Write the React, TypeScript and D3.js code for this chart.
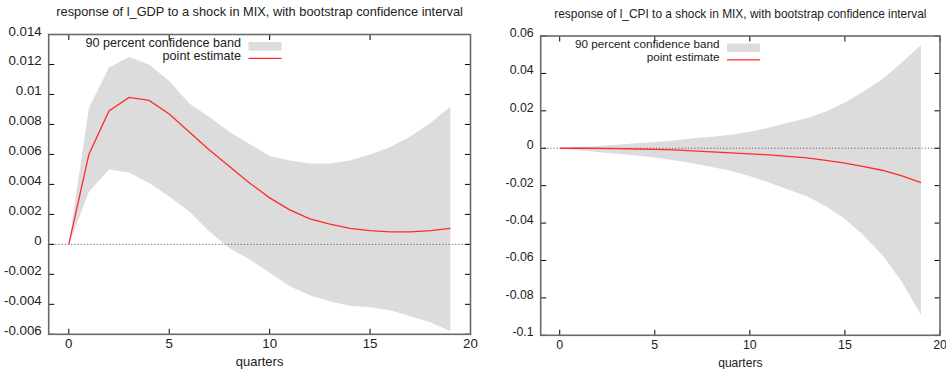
import { useEffect, useRef } from "react";
import * as d3 from "d3";

const quarters = [0, 1, 2, 3, 4, 5, 6, 7, 8, 9, 10, 11, 12, 13, 14, 15, 16, 17, 18, 19];
const xTicks = [0, 5, 10, 15, 20];

// l_GDP response
const gdpPoint = [0, 0.0060, 0.0089, 0.0098, 0.0096, 0.0087, 0.0075, 0.0063, 0.0052, 0.0041, 0.0031,
  0.0023, 0.0017, 0.00135, 0.00107, 0.00091, 0.00083, 0.00083, 0.00091, 0.00107];
const gdpUpper = [0, 0.0091, 0.0118, 0.0125, 0.0120, 0.0109, 0.0094, 0.0085, 0.0075, 0.0067, 0.0059,
  0.0056, 0.0054, 0.0054, 0.0056, 0.0060, 0.0065, 0.0072, 0.0081, 0.0092];
const gdpLower = [0, 0.0035, 0.0050, 0.0048, 0.0041, 0.0032, 0.0022, 0.00085, -0.00026, -0.0010, -0.0019,
  -0.0028, -0.0034, -0.0038, -0.0041, -0.0042, -0.0044, -0.0048, -0.0052, -0.0058];
const gdpYTicks = [-0.006, -0.004, -0.002, 0, 0.002, 0.004, 0.006, 0.008, 0.01, 0.012, 0.014];

// l_CPI response
const cpiPoint = [0, 0, -0.0001, -0.0002, -0.0004, -0.0006, -0.0009, -0.0014, -0.0019, -0.0025, -0.0030,
  -0.0036, -0.0044, -0.0052, -0.0065, -0.0080, -0.0098, -0.0119, -0.0148, -0.0184];
const cpiUpper = [0, 0.0006, 0.0012, 0.0018, 0.0026, 0.0033, 0.0042, 0.0053, 0.0062, 0.0072, 0.0088,
  0.0110, 0.0136, 0.0160, 0.0196, 0.0245, 0.0305, 0.0372, 0.0460, 0.0552];
const cpiLower = [0, -0.0010, -0.0020, -0.0030, -0.0039, -0.0050, -0.0064, -0.0080, -0.0100, -0.0122, -0.0150,
  -0.0183, -0.0220, -0.0257, -0.0310, -0.0378, -0.0468, -0.0575, -0.0715, -0.0891];
const cpiYTicks = [-0.1, -0.08, -0.06, -0.04, -0.02, 0, 0.02, 0.04, 0.06];

const FONT = "'Liberation Sans', Arial, sans-serif";
const BAND = "#dcdcdc";
const RED = "#ff2a2a";

interface PanelSpec {
  title: string;
  point: number[];
  upper: number[];
  lower: number[];
  yTicks: number[];
  left: number;
  right: number;
  top: number;
  bottom: number;
  titleY: number;
  legendX: number;
  fontScale: number;
}

const panels: PanelSpec[] = [
  {
    title: "response of l_GDP to a shock in MIX, with bootstrap confidence interval",
    point: gdpPoint, upper: gdpUpper, lower: gdpLower, yTicks: gdpYTicks,
    left: 48.7, right: 470.5, top: 34.5, bottom: 334.3, titleY: 16, legendX: 241, fontScale: 1
  },
  {
    title: "response of l_CPI to a shock in MIX, with bootstrap confidence interval",
    point: cpiPoint, upper: cpiUpper, lower: cpiLower, yTicks: cpiYTicks,
    left: 540.7, right: 940, top: 36, bottom: 335.3, titleY: 17.5, legendX: 719.5, fontScale: 0.93
  }
];

export default function App() {
  const svgRef = useRef<SVGSVGElement>(null);

  useEffect(() => {
    if (!svgRef.current) return;
    const svg = d3.select(svgRef.current);
    svg.selectAll("*").remove();

    panels.forEach(p => {
      const g = svg.append("g");
      const x = d3.scaleLinear().domain([-1, 20]).range([p.left, p.right]);
      const yExt = d3.extent(p.yTicks) as [number, number];
      const y = d3.scaleLinear().domain(yExt).range([p.bottom, p.top]);
      const fmt = (d: number) => (d === 0 ? "0" : String(+d.toFixed(3)));
      const fs = (n: number) => n * p.fontScale;

      // confidence band
      const area = d3.area<number>()
        .x((d, i) => x(quarters[i]))
        .y0((d, i) => y(p.lower[i]))
        .y1(d => y(d));
      g.append("path")
        .datum(p.upper)
        .attr("d", area)
        .attr("fill", BAND);

      // zero line
      g.append("line")
        .attr("x1", p.left).attr("x2", p.right)
        .attr("y1", y(0)).attr("y2", y(0))
        .attr("stroke", "#444")
        .attr("stroke-width", 0.8)
        .attr("stroke-dasharray", "1.2,2");

      // point estimate
      const line = d3.line<number>()
        .x((d, i) => x(quarters[i]))
        .y(d => y(d));
      g.append("path")
        .datum(p.point)
        .attr("d", line)
        .attr("fill", "none")
        .attr("stroke", RED)
        .attr("stroke-width", 1.3);

      // ticks (inside, mirrored)
      const tl = 5.5;
      p.yTicks.forEach(t => {
        g.append("line").attr("x1", p.left).attr("x2", p.left + tl)
          .attr("y1", y(t)).attr("y2", y(t)).attr("stroke", "#000");
        g.append("line").attr("x1", p.right - tl).attr("x2", p.right)
          .attr("y1", y(t)).attr("y2", y(t)).attr("stroke", "#000");
        g.append("text")
          .attr("x", p.left - 7)
          .attr("y", y(t) + 1)
          .attr("text-anchor", "end")
          .attr("font-size", fs(13.3))
          .attr("font-family", FONT)
          .attr("fill", "#222")
          .text(fmt(t));
      });
      xTicks.forEach(t => {
        g.append("line").attr("x1", x(t)).attr("x2", x(t))
          .attr("y1", p.bottom).attr("y2", p.bottom - tl).attr("stroke", "#000");
        g.append("line").attr("x1", x(t)).attr("x2", x(t))
          .attr("y1", p.top).attr("y2", p.top + tl).attr("stroke", "#000");
        g.append("text")
          .attr("x", x(t))
          .attr("y", p.bottom + 13.5)
          .attr("text-anchor", "middle")
          .attr("font-size", fs(13.3))
          .attr("font-family", FONT)
          .attr("fill", "#222")
          .text(t);
      });

      // frame
      g.append("rect")
        .attr("x", p.left).attr("y", p.top)
        .attr("width", p.right - p.left).attr("height", p.bottom - p.top)
        .attr("fill", "none")
        .attr("stroke", "#6a6a6a")
        .attr("stroke-width", 1.6);

      // title and axis label
      g.append("text")
        .attr("x", (p.left + p.right) / 2)
        .attr("y", p.titleY)
        .attr("text-anchor", "middle")
        .attr("font-size", fs(12.8))
        .attr("font-family", FONT)
        .attr("fill", "#222")
        .text(p.title);
      g.append("text")
        .attr("x", (p.left + p.right) / 2)
        .attr("y", p.bottom + 32)
        .attr("text-anchor", "middle")
        .attr("font-size", fs(13))
        .attr("font-family", FONT)
        .attr("fill", "#222")
        .text("quarters");

      // legend
      const lg = g.append("g").attr("transform", `translate(${p.legendX},${p.top})`);
      lg.append("text").attr("x", 0).attr("y", 12.2).attr("text-anchor", "end")
        .attr("font-size", fs(12.6)).attr("font-family", FONT).attr("fill", "#222")
        .text("90 percent confidence band");
      lg.append("rect").attr("x", 7.5).attr("y", 7.5).attr("width", 33).attr("height", 8.5)
        .attr("fill", BAND);
      lg.append("text").attr("x", 0).attr("y", 25).attr("text-anchor", "end")
        .attr("font-size", fs(12.6)).attr("font-family", FONT).attr("fill", "#222")
        .text("point estimate");
      lg.append("line").attr("x1", 7.5).attr("x2", 40.5).attr("y1", 23.8).attr("y2", 23.8)
        .attr("stroke", RED).attr("stroke-width", 1.3);
    });
  }, []);

  return (
    <div style={{ position: "absolute", left: 0, top: 0, width: 946, height: 369, background: "#fff" }}>
      <svg ref={svgRef} width={946} height={369} style={{ display: "block" }}></svg>
    </div>
  );
}
